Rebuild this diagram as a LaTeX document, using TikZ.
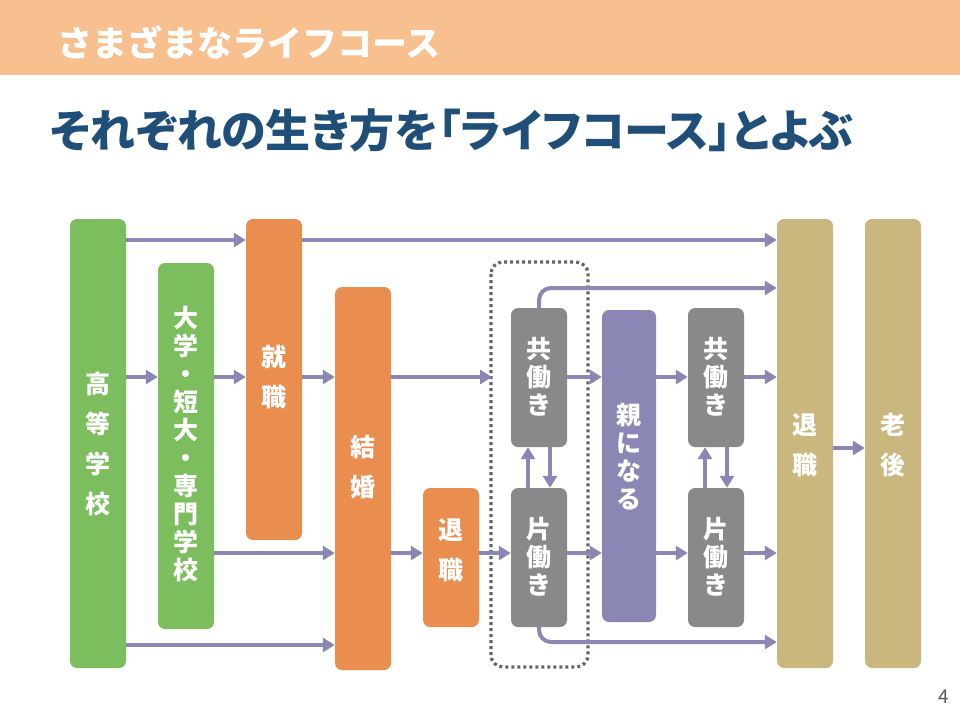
\documentclass[tikz,border=0pt]{standalone}
\usepackage{fontspec}
\setmainfont{Noto Sans CJK JP}
\usetikzlibrary{arrows.meta}
\definecolor{hdr}{RGB}{249,192,143}
\definecolor{navy}{RGB}{31,78,121}
\definecolor{grn}{RGB}{124,190,93}
\definecolor{org}{RGB}{233,142,79}
\definecolor{gry}{RGB}{135,138,136}
\definecolor{pur}{RGB}{139,135,181}
\definecolor{tan}{RGB}{201,183,125}
\definecolor{dotc}{RGB}{100,100,100}
\definecolor{pg}{RGB}{89,89,89}
\tikzset{
  box/.style={rounded corners=7pt, minimum width=56pt, inner sep=0pt, draw=none},
  lbl/.style={text=white, align=center, inner sep=0pt, font=\bfseries\fontsize{25}{40}\selectfont},
  lbltight/.style={lbl, font=\bfseries\fontsize{25}{28}\selectfont},
  lblmid/.style={lbl, font=\bfseries\fontsize{25}{28}\selectfont},
  arr/.style={draw=pur, line width=4pt, -{Triangle[length=12pt,width=14pt]}},
}
\begin{document}
\begin{tikzpicture}[x=1pt,y=-1pt]
\useasboundingbox (0,0) rectangle (960,720);
\fill[hdr] (0,0) rectangle (960,75);
\node[anchor=west, text=white, inner sep=0pt, font=\bfseries\fontsize{35}{40}\selectfont] (title) at (57,42) {さまざまなライフコース};
\node[anchor=west, text=navy, inner sep=0pt, font=\bfseries\fontsize{45}{50}\selectfont\addfontfeatures{RawFeature=+palt}] (sub) at (50,130) {それぞれの生き方を「ライフコース」とよぶ};
\node[text=pg, inner sep=0pt, font=\fontsize{19}{20}\selectfont] (pgnum) at (944,697) {4};

% dotted group
\draw[dotc, line width=3.2pt, dash pattern=on 3pt off 3pt, rounded corners=12pt] (491,262) rectangle (588,667);

% boxes
\node[box, fill=grn, minimum height=449pt] (hs) at (98,443.5) {};
\node[box, fill=grn, minimum height=366pt] (univ) at (186,446) {};
\node[box, fill=org, minimum height=321pt] (job) at (274,379.5) {};
\node[box, fill=org, minimum height=383pt] (mar) at (363,478.5) {};
\node[box, fill=org, minimum height=139pt] (quitA) at (451,557.5) {};
\node[box, fill=gry, minimum height=139pt] (kyoA) at (539,377.5) {};
\node[box, fill=gry, minimum height=139pt] (kataA) at (539,557.5) {};
\node[box, fill=pur, minimum width=54pt, minimum height=312pt] (par) at (629,466) {};
\node[box, fill=gry, minimum height=139pt] (kyoB) at (716,377.5) {};
\node[box, fill=gry, minimum height=139pt] (kataB) at (716,557.5) {};
\node[box, fill=tan, minimum height=449pt] (ret) at (805,443.5) {};
\node[box, fill=tan, minimum height=449pt] (old) at (893,443.5) {};

% labels
\node[lbl] (ths) at (98,444) {高\\等\\学\\校};
\node[lbltight] (tuniv) at (186,444) {大\\学\\・\\短\\大\\・\\専\\門\\学\\校};
\node[lbl] (tjob) at (274,377) {就\\職};
\node[lbl] (tmar) at (363,467) {結\\婚};
\node[lbl] (tquitA) at (451,550) {退\\職};
\node[lblmid] (tkyoA) at (539,377) {共\\働\\き};
\node[lblmid] (tkataA) at (539,557) {片\\働\\き};
\node[lblmid] (tpar) at (629,457) {親\\に\\な\\る};
\node[lblmid] (tkyoB) at (716,377) {共\\働\\き};
\node[lblmid] (tkataB) at (716,557) {片\\働\\き};
\node[lbl] (tret) at (805,445) {退\\職};
\node[lbl] (told) at (893,445) {老\\後};

% arrows row 240
\draw[arr] (hs.east |- 0,240) -- (job.west |- 0,240);
\draw[arr] (job.east |- 0,240) -- (ret.west |- 0,240);
% row 377
\draw[arr] (hs.east |- 0,377) -- (univ.west |- 0,377);
\draw[arr] (univ.east |- 0,377) -- (job.west |- 0,377);
\draw[arr] (job.east |- 0,377) -- (mar.west |- 0,377);
\coordinate (grpL) at (492,377);
\draw[arr] (mar.east |- 0,377) -- (grpL);
\draw[arr] (kyoA.east |- 0,377) -- (par.west |- 0,377);
\draw[arr] (par.east |- 0,377) -- (kyoB.west |- 0,377);
\draw[arr] (kyoB.east |- 0,377) -- (ret.west |- 0,377);
% row 553
\draw[arr] (univ.east |- 0,553) -- (mar.west |- 0,553);
\draw[arr] (mar.east |- 0,553) -- (quitA.west |- 0,553);
\draw[arr] (quitA.east |- 0,553) -- (kataA.west |- 0,553);
\draw[arr] (kataA.east |- 0,553) -- (par.west |- 0,553);
\draw[arr] (par.east |- 0,553) -- (kataB.west |- 0,553);
\draw[arr] (kataB.east |- 0,553) -- (ret.west |- 0,553);
% row 645
\draw[arr] (hs.east |- 0,645) -- (mar.west |- 0,645);
% curved
\draw[arr, rounded corners=12pt] (kyoA.north) -- (kyoA.north |- 0,288) -- (ret.west |- 0,288);
\draw[arr, rounded corners=12pt] (kataA.south) -- (kataA.south |- 0,642) -- (ret.west |- 0,642);
% verticals
\draw[arr] (528,0 |- kataA.north) -- (528,0 |- kyoA.south);
\draw[arr] (550,0 |- kyoA.south) -- (550,0 |- kataA.north);
\draw[arr] (705,0 |- kataB.north) -- (705,0 |- kyoB.south);
\draw[arr] (727,0 |- kyoB.south) -- (727,0 |- kataB.north);
% to old age
\draw[arr] (ret.east |- 0,448) -- (old.west |- 0,448);
\end{tikzpicture}
\end{document}
